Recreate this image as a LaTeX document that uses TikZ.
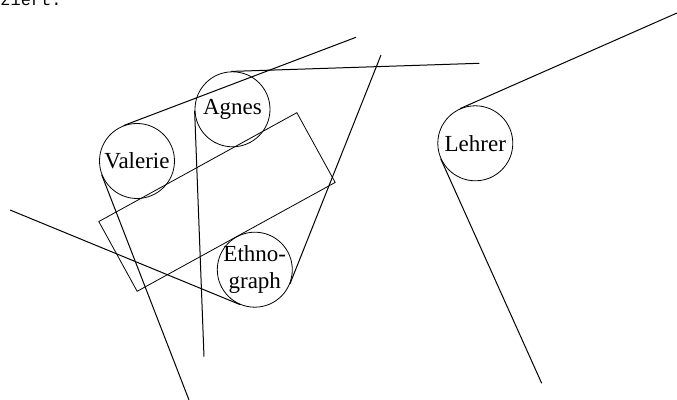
\documentclass[tikz,border=0pt]{standalone}
\usepackage{fontspec}
\setmainfont{Liberation Serif}
\newfontfamily\monofont{Liberation Mono}
\usetikzlibrary{calc}
\begin{document}
\begin{tikzpicture}[x=0.5pt,y=-0.5pt,
  person/.style={draw,circle,minimum size=37.5pt,inner sep=-2pt,align=center,font=\fontsize{11.5pt}{13.5pt}\selectfont},
  link/.style={draw,line width=0.5pt},
  boxshape/.style={draw,rectangle,minimum width=113pt,minimum height=39.8pt,rotate=28.8}]
\useasboundingbox (0,0) rectangle (677,400);
\node[anchor=base west,inner sep=0pt,font=\monofont\fontsize{8.5pt}{10pt}\selectfont] (cap) at (0,6) {ziert.};
\node[person] (val) at (137,161) {Valerie};
\node[person] (agn) at (232.5,109.3) {Agnes};
\node[person] (leh) at (475.3,143.3) {Lehrer};
\node[person] (eth) at (254.8,269.7) {Ethno-\\graph};
\node[boxshape] (box) at (217,202) {};
\coordinate (pa) at (356,37.3);
\coordinate (pb) at (479.3,63.3);
\coordinate (pc) at (381,55);
\coordinate (pe) at (10,210);
\coordinate (pf) at (189,400);
\coordinate (pg) at (204,356.7);
\coordinate (ph) at (677,13);
\coordinate (pi) at (541.7,383.3);
\draw[link] (tangent cs:node=val,point={(pa)},solution=1) -- (pa);
\draw[link] (tangent cs:node=agn,point={(pb)},solution=1) -- (pb);
\draw[link] (tangent cs:node=eth,point={(pc)},solution=2) -- (pc);
\draw[link] (tangent cs:node=eth,point={(pe)},solution=1) -- (pe);
\draw[link] (tangent cs:node=val,point={(pf)},solution=2) -- (pf);
\draw[link] (tangent cs:node=agn,point={(pg)},solution=2) -- (pg);
\draw[link] (tangent cs:node=leh,point={(ph)},solution=1) -- (ph);
\draw[link] (tangent cs:node=leh,point={(pi)},solution=2) -- (pi);
\end{tikzpicture}
\end{document}
